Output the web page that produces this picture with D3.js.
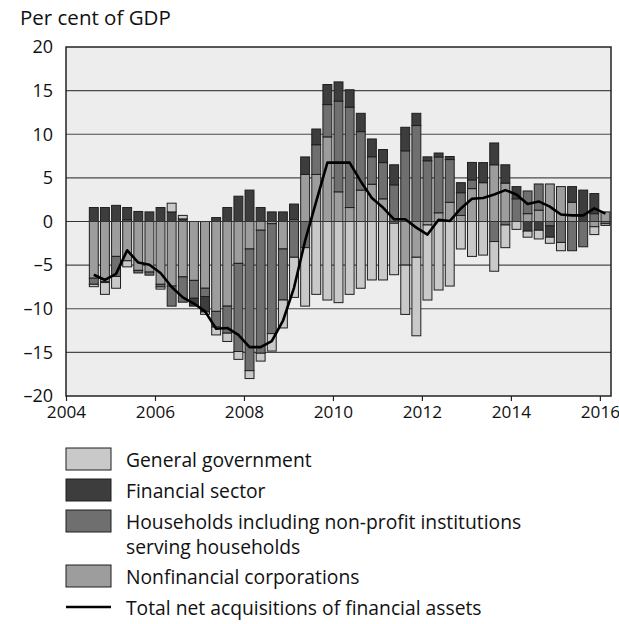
<!DOCTYPE html>
<html lang="en">
<head>
<meta charset="UTF-8">
<title>Net acquisitions of financial assets</title>
<script src="https://cdn.jsdelivr.net/npm/d3@7"></script>
<style>
  body { margin: 0; background: #fff; }
  text { font-family: "Open Sans", sans-serif; fill: #111; }
</style>
</head>
<body>
<div id="chart"></div>
<script>
// Quarters shown on the chart
var quarters = [
  "2004Q3","2004Q4",
  "2005Q1","2005Q2","2005Q3","2005Q4",
  "2006Q1","2006Q2","2006Q3","2006Q4",
  "2007Q1","2007Q2","2007Q3","2007Q4",
  "2008Q1","2008Q2","2008Q3","2008Q4",
  "2009Q1","2009Q2","2009Q3","2009Q4",
  "2010Q1","2010Q2","2010Q3","2010Q4",
  "2011Q1","2011Q2","2011Q3","2011Q4",
  "2012Q1","2012Q2","2012Q3","2012Q4",
  "2013Q1","2013Q2","2013Q3","2013Q4",
  "2014Q1","2014Q2","2014Q3","2014Q4",
  "2015Q1","2015Q2","2015Q3","2015Q4",
  "2016Q1"
];

// Per cent of GDP
var nonfinancial = [
  -6.5, -6.9,
  -4.0, -4.5, -5.6, -5.8,
  -7.2, -7.4, -6.35, -6.75,
  -7.65, -10.3, -9.7, -4.8,
  -3.15, -1.0, -0.25, -3.15,
  0.2, 5.4, 5.4, 9.7,
  3.4, 1.6, 3.6, 4.27,
  2.6, -0.2, -5.0, -4.1,
  -0.4, 1.0, 2.2, 0.7,
  3.77, 4.45, 6.5, 4.4,
  0, 0.9, 1.3, 4.3,
  4.0, 2.2, 0, -0.6,
  1.1
];
var households = [
  -0.7, -0.1,
  -2.3, 0.2, -0.3, -0.35,
  -0.3, -2.3, -2.9, -2.05,
  -0.95, -1.8, -3.1, -10.1,
  -13.95, -14.1, -12.6, -5.85,
  -4.1, -3.0, 3.4, 3.7,
  10.4, 11.5, 6.7, 3.15,
  4.15, 4.2, 8.1, 11.0,
  6.96, 6.4, 4.9, 2.6,
  1.0, 0, -2.3, -0.4,
  2.6, 2.6, 3.0, -0.5,
  -2.4, -3.35, -2.9, 0.9,
  -0.25
];
var financial = [
  1.6, 1.6,
  1.85, 1.4, 1.15, 1.1,
  1.6, 1.1, 0.3, -0.9,
  -1.77, 0.45, 1.6, 2.9,
  3.6, 1.6, 1.1, 1.1,
  1.8, 2.0, 1.8, 2.3,
  2.2, 2.0, 2.1, 2.04,
  1.5, 2.3, 2.7, 1.4,
  0.45, 0.45, 0.35, 1.15,
  2.0, 2.3, 2.5, 2.1,
  1.4, -1.1, -1.0, -1.3,
  0, 1.8, 3.6, 2.3,
  0
];
var government = [
  -0.27, -1.35,
  -1.35, -0.7, 0, 0,
  -0.25, 1.0, 0.4, 0,
  -0.27, -0.9, -0.95, -0.9,
  -0.9, -0.9, -2.0, -3.2,
  -4.6, -6.7, -8.35, -9.0,
  -9.3, -8.35, -7.65, -6.7,
  -6.7, -5.9, -5.65, -9.0,
  -8.6, -7.85, -7.4, -3.15,
  -4.0, -3.85, -3.4, -2.6,
  -0.9, -0.7, -1.0, -0.7,
  -0.95, 0, 0, -0.9,
  -0.2
];
var total = [
  -6.1, -6.7,
  -6.0, -3.3, -4.7, -4.95,
  -5.9, -7.5, -8.7, -9.4,
  -10.3, -12.3, -12.2, -13.0,
  -14.4, -14.4, -13.7, -11.4,
  -7.6, -2.2, 2.3, 6.75,
  6.75, 6.75, 4.6, 2.7,
  1.6, 0.25, 0.25, -0.7,
  -1.5, 0.2, 0.05, 1.5,
  2.6, 2.7, 3.1, 3.6,
  3.1, 2.0, 2.3, 1.7,
  0.8, 0.7, 0.7, 1.5,
  0.9
];

var yTicks = [20, 15, 10, 5, 0, -5, -10, -15, -20];
var xTicks = [2004, 2006, 2008, 2010, 2012, 2014, 2016];

// Stack order from zero outwards, and legend order
var seriesKeys = ["nfc", "hh", "fin", "gov"];
var colors = { gov: "#c9c9c9", fin: "#3d3d3d", hh: "#6f6f6f", nfc: "#9d9d9d" };
var legendItems = [
  { key: "gov", lines: ["General government"] },
  { key: "fin", lines: ["Financial sector"] },
  { key: "hh",  lines: ["Households including non-profit institutions", "serving households"] },
  { key: "nfc", lines: ["Nonfinancial corporations"] },
  { key: "line", lines: ["Total net acquisitions of financial assets"] }
];

var w = 619, h = 624;
var mLeft = 66, mRight = 611, mTop = 47, mBottom = 396;

var rows = quarters.map(function(q, i) {
  return {
    q: q,
    t: +q.slice(0, 4) + (+q.slice(5) - 0.5) / 4,
    nfc: nonfinancial[i], hh: households[i], fin: financial[i], gov: government[i],
    total: total[i]
  };
});

var svg = d3.select("#chart").append("svg")
  .attr("width", w)
  .attr("height", h);

var x = d3.scaleLinear().domain([2004, 2016.25]).range([mLeft, mRight]);
var y = d3.scaleLinear().domain([-20, 20]).range([mBottom, mTop]);

// Plot background
svg.append("rect")
  .attr("x", mLeft).attr("y", mTop)
  .attr("width", mRight - mLeft).attr("height", mBottom - mTop)
  .attr("fill", "#ededed");

// Grid lines
svg.append("g")
  .selectAll("line")
  .data(yTicks.filter(function(d) { return d != 20 && d != -20 && d != 0; }))
  .enter()
  .append("line")
  .attr("x1", mLeft).attr("x2", mRight)
  .attr("y1", function(d) { return y(d); })
  .attr("y2", function(d) { return y(d); })
  .attr("stroke", "#4a4a4a")
  .attr("stroke-width", 1.2);

// Stacked bars
var stack = d3.stack().keys(seriesKeys).offset(d3.stackOffsetDiverging);
var layers = stack(rows);
var barW = x(2004.25) - x(2004) - 2.2;

svg.append("g")
  .selectAll("g")
  .data(layers)
  .enter()
  .append("g")
  .attr("fill", function(d) { return colors[d.key]; })
  .selectAll("rect")
  .data(function(d) { return d.filter(function(p) { return p[1] - p[0] != 0; }); })
  .enter()
  .append("rect")
  .attr("x", function(d) { return x(d.data.t) - barW / 2; })
  .attr("width", barW)
  .attr("y", function(d) { return y(Math.max(d[0], d[1])); })
  .attr("height", function(d) { return Math.abs(y(d[0]) - y(d[1])); })
  .attr("stroke", "#1e1e1e")
  .attr("stroke-width", 1);

// Zero line
svg.append("line")
  .attr("x1", mLeft).attr("x2", mRight)
  .attr("y1", y(0)).attr("y2", y(0))
  .attr("stroke", "#333")
  .attr("stroke-width", 1.2);

// Total line
var line = d3.line()
  .x(function(d) { return x(d.t); })
  .y(function(d) { return y(d.total); });

svg.append("path")
  .datum(rows)
  .attr("d", line)
  .attr("fill", "none")
  .attr("stroke", "#000")
  .attr("stroke-width", 2.6)
  .attr("stroke-linejoin", "round");

// Frame
svg.append("rect")
  .attr("x", mLeft).attr("y", mTop)
  .attr("width", mRight - mLeft).attr("height", mBottom - mTop)
  .attr("fill", "none")
  .attr("stroke", "#222")
  .attr("stroke-width", 1.5);

// Axes
var fmt = function(d) { return d < 0 ? "\u2013" + Math.abs(d) : "" + d; };

var yAxis = svg.append("g")
  .attr("transform", "translate(" + mLeft + ",0)")
  .call(d3.axisLeft(y).tickValues(yTicks).tickSize(0).tickPadding(13).tickFormat(fmt));
yAxis.select(".domain").remove();
yAxis.selectAll("text").style("font-size", "18px").attr("fill", "#111");

var xAxis = svg.append("g")
  .attr("transform", "translate(0," + mBottom + ")")
  .call(d3.axisBottom(x).tickValues(xTicks).tickSize(5).tickPadding(5).tickFormat(d3.format("d")));
xAxis.select(".domain").remove();
xAxis.selectAll("line").attr("stroke", "#222").attr("stroke-width", 1.2);
xAxis.selectAll("text").style("font-size", "17.2px").attr("fill", "#111");

// Unit label
svg.append("text")
  .attr("x", 20)
  .attr("y", 25)
  .style("font-size", "20.5px")
  .text("Per cent of GDP");

// Legend
var legendTop = [448, 479, 510, 565, 596];
var legend = svg.append("g");
legendItems.forEach(function(item, i) {
  var g = legend.append("g").attr("transform", "translate(66," + legendTop[i] + ")");
  if (item.key == "line") {
    g.append("line")
      .attr("x1", 0).attr("x2", 45)
      .attr("y1", 11).attr("y2", 11)
      .attr("stroke", "#000")
      .attr("stroke-width", 2.6);
  } else {
    g.append("rect")
      .attr("x", 0).attr("y", 0)
      .attr("width", 45).attr("height", 22)
      .attr("fill", colors[item.key])
      .attr("stroke", "#1e1e1e")
      .attr("stroke-width", 1);
  }
  item.lines.forEach(function(t, j) {
    g.append("text")
      .attr("x", 60)
      .attr("y", 19 + j * 25)
      .style("font-size", "19.3px")
      .text(t);
  });
});
</script>
</body>
</html>
